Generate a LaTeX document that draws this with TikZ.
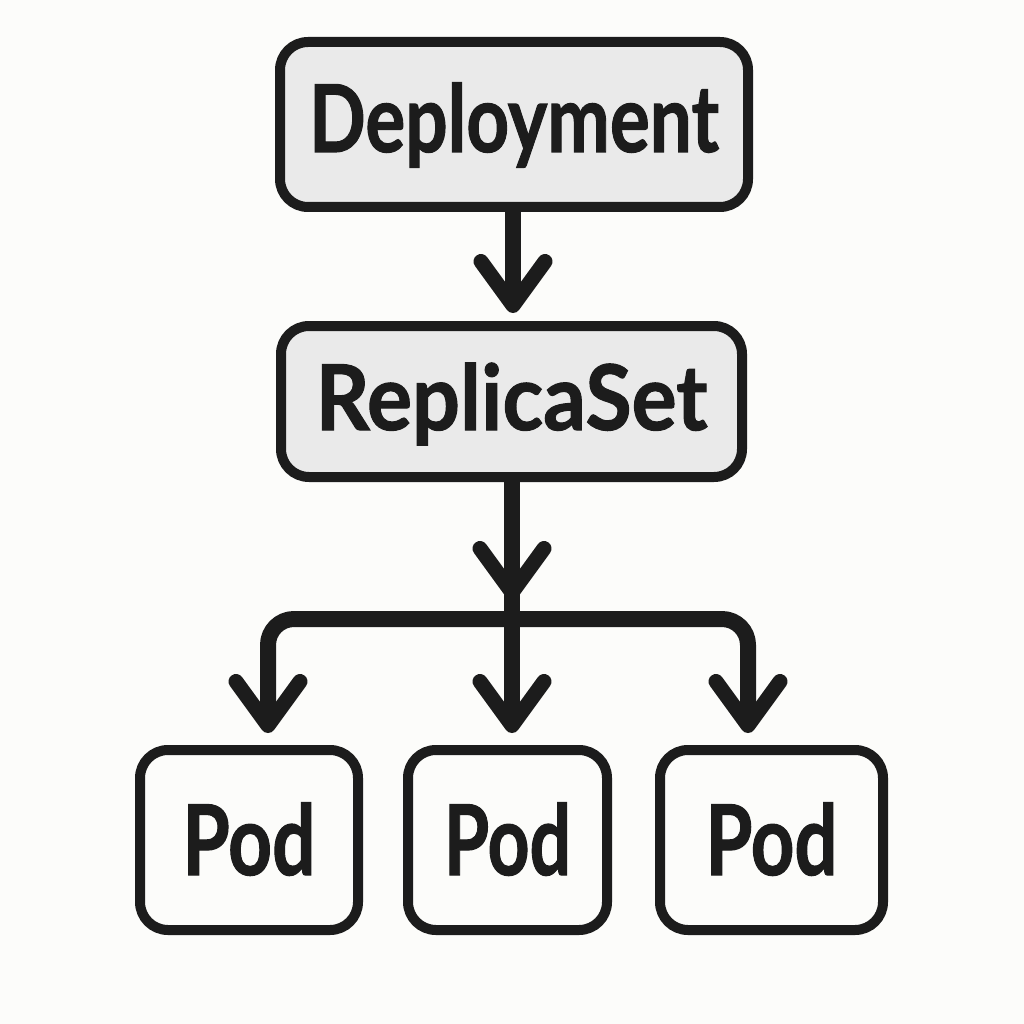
\documentclass[tikz,border=0pt]{standalone}
\usepackage{fontspec}
\setmainfont{Lato}[BoldFeatures={FakeBold=1.2}]
\usetikzlibrary{arrows.meta}
\definecolor{bg}{HTML}{FCFCFA}
\definecolor{ink}{HTML}{1C1C1C}
\definecolor{boxfill}{HTML}{EAEAEA}
\newcommand\fitw[2]{\resizebox{#1}{\height}{#2}}
\begin{document}
\begin{tikzpicture}[x=1pt,y=-1pt,
  box/.style={draw=ink, line width=10pt, rounded corners=28pt, inner sep=0pt, text=ink},
  graybox/.style={box, fill=boxfill},
  podbox/.style={box, fill=bg, text height=70pt, text depth=0pt,
    font=\fontsize{97.7}{100}\selectfont\bfseries},
  conn/.style={draw=ink, line width=16pt, line cap=round, line join=round},
  vtip/.style={-{Straight Barb[length=44pt, width=64pt, line width=15pt, round]}}
]
\fill[bg] (0,0) rectangle (1024,1024);
\useasboundingbox (0,0) rectangle (1024,1024);

\node[graybox, minimum width=468pt, minimum height=165pt, text height=67pt, text depth=12pt,
  font=\fontsize{93.5}{100}\selectfont\bfseries] (dep) at (514,124.5) {\fitw{410pt}{Deployment}};
\node[graybox, minimum width=461pt, minimum height=151pt, text height=65pt, text depth=8pt,
  font=\fontsize{90.7}{100}\selectfont\bfseries] (rs) at (511.5,401.5) {\fitw{392pt}{ReplicaSet}};
\node[podbox, minimum width=218pt, minimum height=180pt] (pod1) at (249,840) {\fitw{133pt}{Pod}};
\node[podbox, minimum width=199pt, minimum height=180pt] (pod2) at (507.5,840) {\fitw{127pt}{Pod}};
\node[podbox, minimum width=223pt, minimum height=180pt] (pod3) at (771.5,840) {\fitw{132pt}{Pod}};

\coordinate (hub) at (512,600);
\coordinate (bar) at (512,619);
\coordinate (bl) at (268,619);
\coordinate (br) at (748,619);

\draw[conn, vtip, shorten >=8pt] (dep.south -| 513,0) -- (rs.north -| 513,0);
\draw[conn, vtip, shorten >=12pt] (rs.south -| 512,0) -- (pod2.north -| 512,0);
\draw[conn, vtip] (rs.south -| 512,0) -- (hub);
\draw[conn, vtip, rounded corners=26pt, shorten >=12pt] (bar) -- (bl) -- (bl |- pod1.north);
\draw[conn, vtip, rounded corners=26pt, shorten >=12pt] (bar) -- (br) -- (br |- pod3.north);
\end{tikzpicture}
\end{document}
